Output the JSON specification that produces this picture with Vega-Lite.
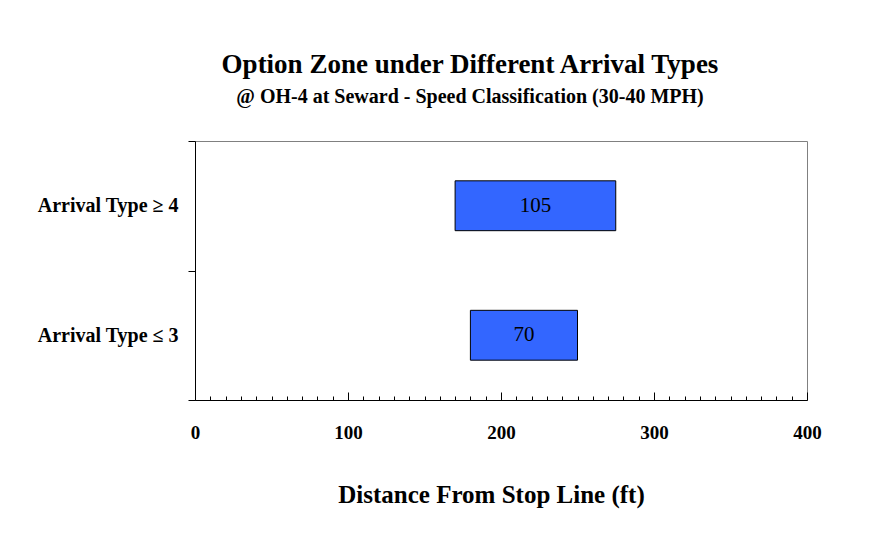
{
  "$schema": "https://vega.github.io/schema/vega-lite/v6.json",
  "autosize": "none",
  "width": 612,
  "height": 259,
  "padding": {"left": 195, "top": 141, "right": 71, "bottom": 133},
  "background": "white",
  "config": {
    "font": "Liberation Serif",
    "view": {"stroke": "#808080", "strokeWidth": 1},
    "axis": {"labelFont": "Liberation Serif", "titleFont": "Liberation Serif", "labelColor": "black", "titleColor": "black", "domainColor": "black", "tickColor": "black", "grid": false}
  },
  "title": {
    "text": "Option Zone under Different Arrival Types",
    "subtitle": "@ OH-4 at Seward - Speed Classification (30-40 MPH)",
    "font": "Liberation Serif",
    "fontSize": 27,
    "fontWeight": "bold",
    "subtitleFont": "Liberation Serif",
    "subtitleFontSize": 20,
    "subtitleFontWeight": "bold",
    "subtitleColor": "black",
    "subtitlePadding": 8,
    "anchor": "middle",
    "dx": -31,
    "offset": 23
  },
  "data": {
    "values": [
      {"type": "Arrival Type ≥ 4", "start": 170, "end": 275, "mid": 222.5, "len": 105},
      {"type": "Arrival Type ≤ 3", "start": 180, "end": 250, "mid": 215, "len": 70}
    ]
  },
  "encoding": {
    "y": {
      "field": "type",
      "type": "nominal",
      "sort": ["Arrival Type ≥ 4", "Arrival Type ≤ 3"],
      "scale": {"paddingInner": 0, "paddingOuter": 0},
      "axis": {"title": null, "tickBand": "extent", "tickSize": 7, "labelFontSize": 20, "labelFontWeight": "bold", "labelPadding": 10, "domainColor": "black"}
    }
  },
  "layer": [
    {
      "mark": {"type": "bar", "color": "#3366FF", "stroke": "black", "strokeWidth": 1, "height": {"band": 0.385}},
      "encoding": {
        "x": {
          "field": "start",
          "type": "quantitative",
          "scale": {"domain": [0, 400], "nice": false, "zero": true},
          "axis": {"orient": "bottom", "title": "Distance From Stop Line (ft)", "titleFontSize": 25, "titleFontWeight": "bold", "titlePadding": 40, "titleX": 296, "values": [0, 100, 200, 300, 400], "tickSize": -8, "labelFontSize": 19, "labelFontWeight": "bold", "labelPadding": 31, "labelFlush": false}
        },
        "x2": {"field": "end"}
      }
    },
    {
      "mark": {"type": "text", "fontSize": 21, "fontWeight": "normal", "color": "black", "font": "Liberation Serif"},
      "encoding": {
        "x": {
          "field": "mid",
          "type": "quantitative",
          "axis": {"orient": "bottom", "title": null, "labels": false, "domain": false, "tickSize": -4, "values": [10,20,30,40,50,60,70,80,90,110,120,130,140,150,160,170,180,190,210,220,230,240,250,260,270,280,290,310,320,330,340,350,360,370,380,390]}
        },
        "text": {"field": "len", "type": "quantitative"}
      }
    }
  ],
  "resolve": {"axis": {"x": "independent"}}
}
